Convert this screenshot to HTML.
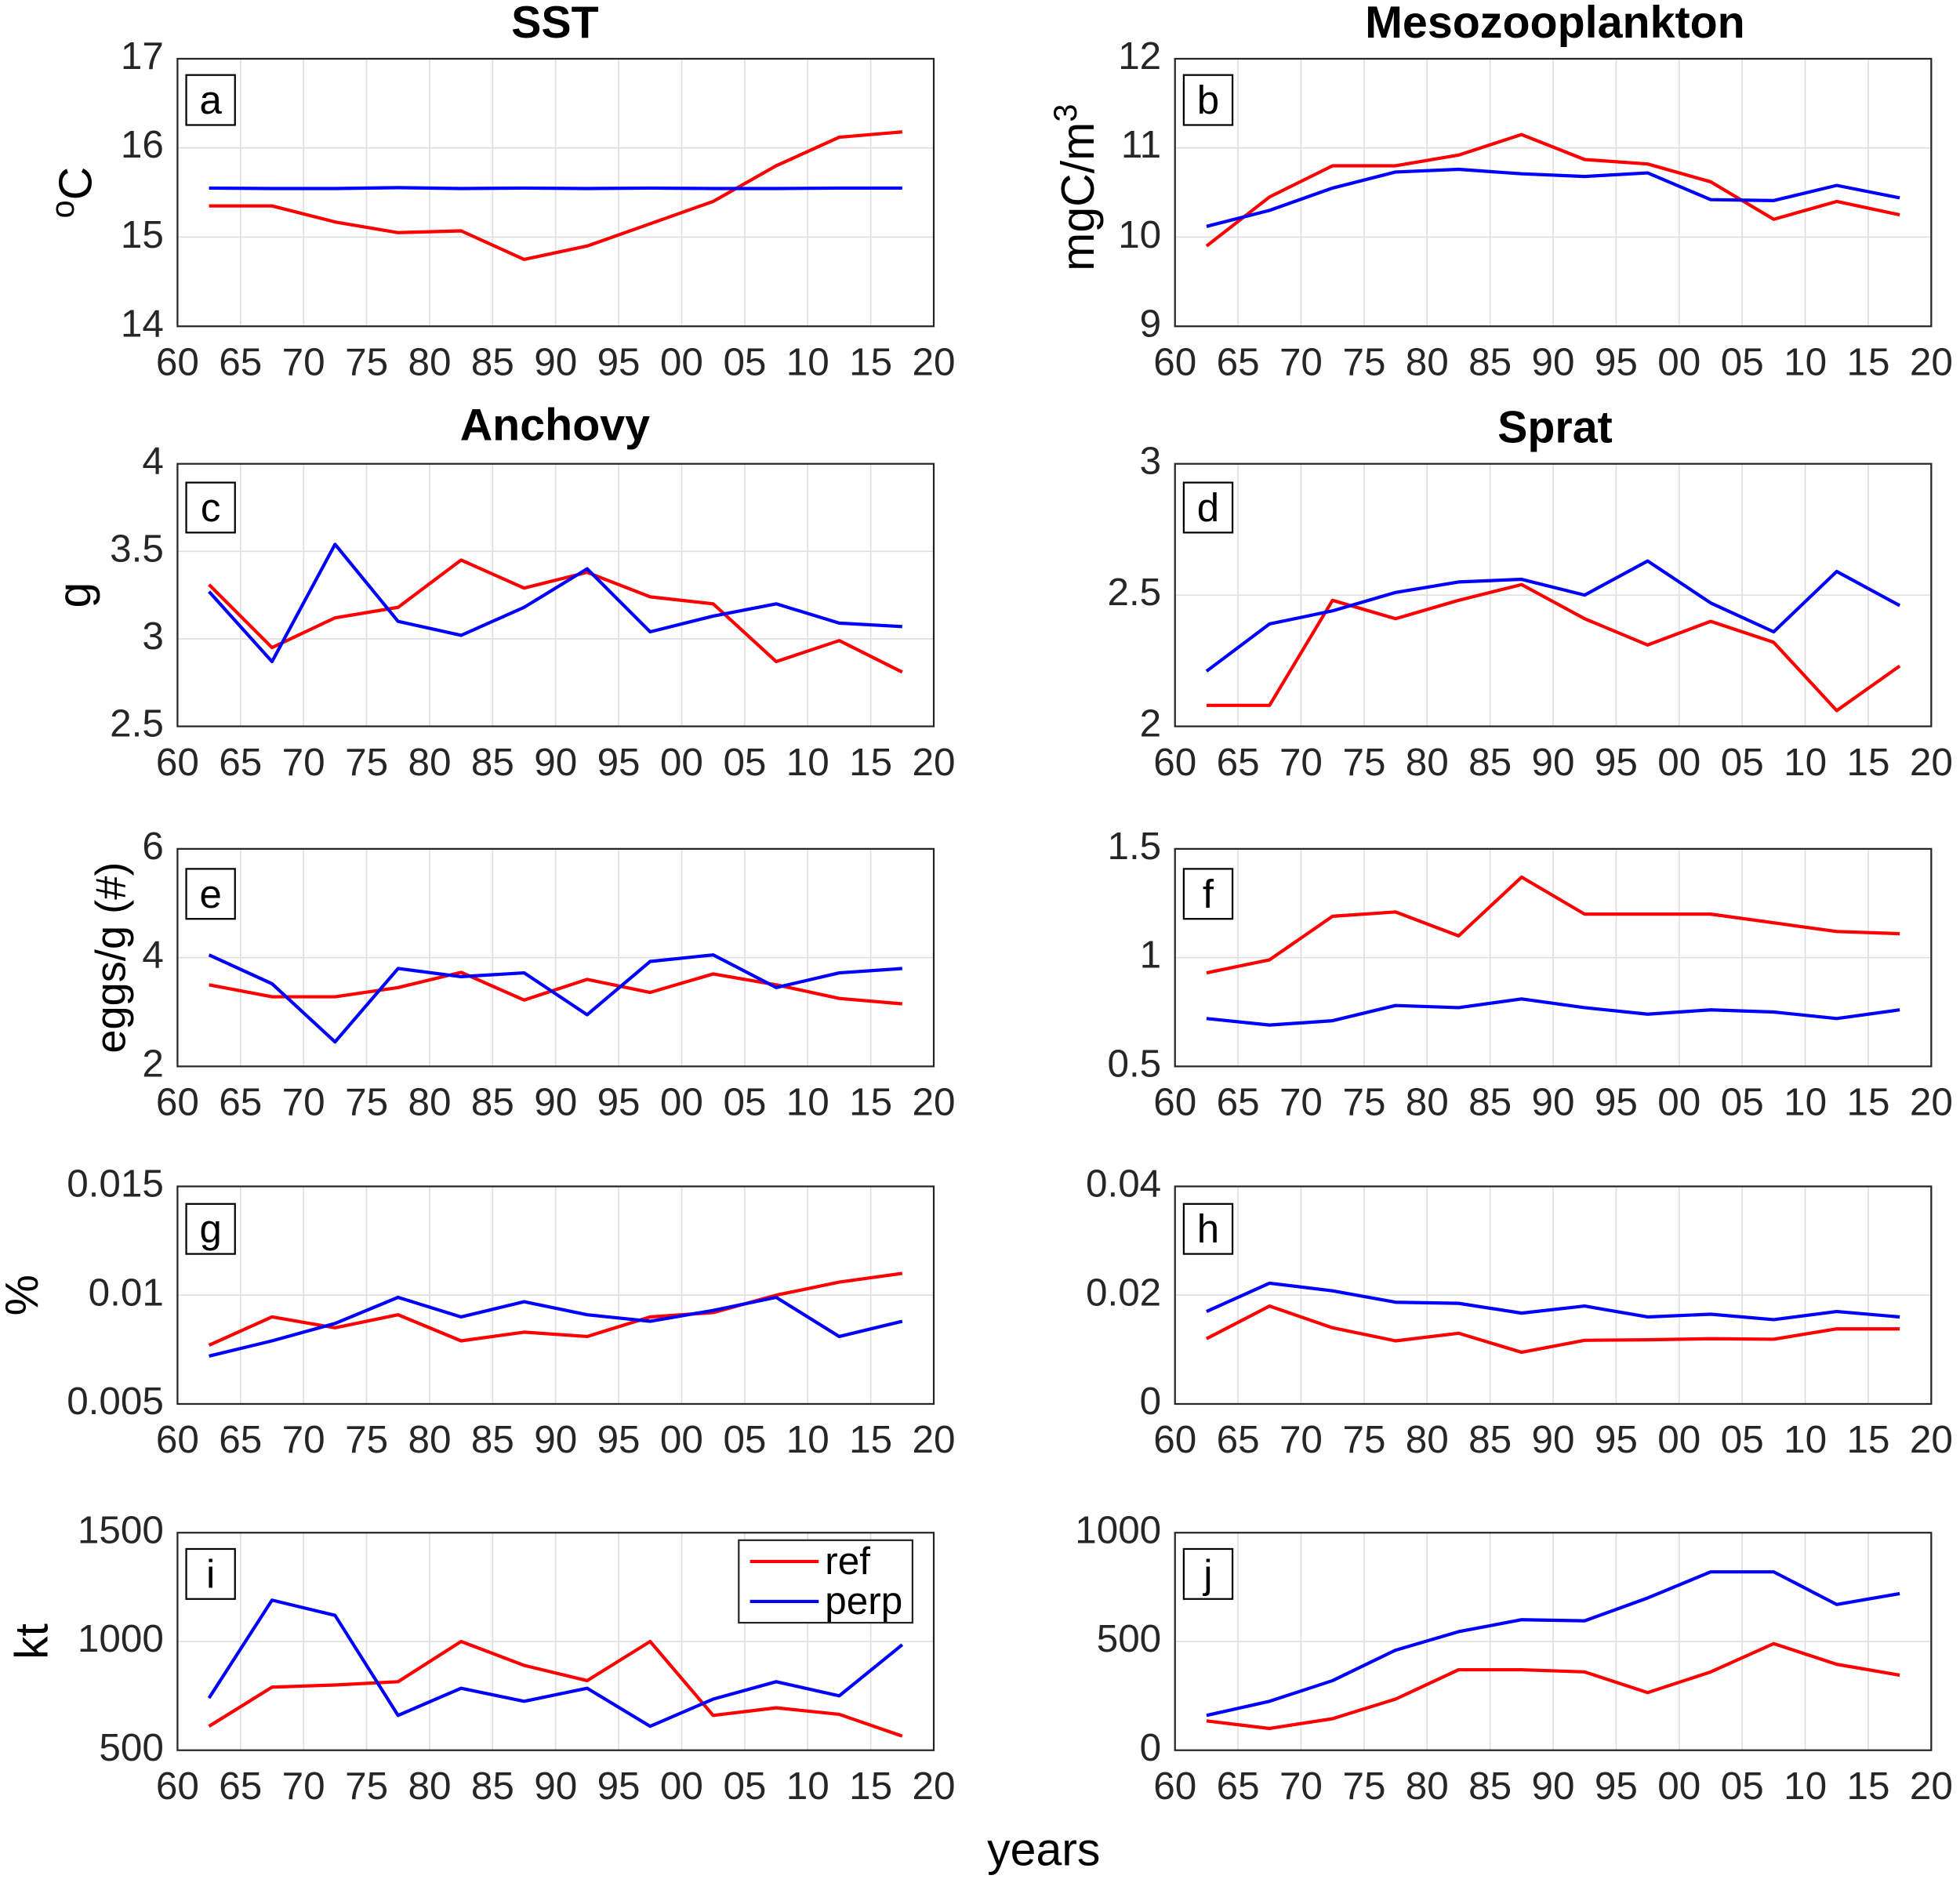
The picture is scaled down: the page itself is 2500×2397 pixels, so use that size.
<!DOCTYPE html>
<html><head><meta charset="utf-8"><style>html,body{margin:0;padding:0;background:#fff}svg{display:block}</style></head>
<body>
<svg width="2500" height="2397" viewBox="0 0 1568 1503" preserveAspectRatio="none" xmlns="http://www.w3.org/2000/svg" font-family="Liberation Sans, Arial, sans-serif">
<style>
.g{stroke:#dedede;stroke-width:1.6;vector-effect:non-scaling-stroke;fill:none}
.r{stroke:#f00;stroke-width:4.2;vector-effect:non-scaling-stroke;fill:none;stroke-linejoin:round}
.b{stroke:#00f;stroke-width:4.2;vector-effect:non-scaling-stroke;fill:none;stroke-linejoin:round}
.ax{stroke:#262626;stroke-width:1.4;fill:none}
.t{font-size:31px;fill:#000}
.yl{font-size:31px;fill:#262626;text-anchor:end;dominant-baseline:middle}
.xl{font-size:31px;fill:#262626;text-anchor:middle}
.ti{font-size:36px;font-weight:bold;fill:#000;text-anchor:middle}
.lb{font-size:32px;fill:#000;text-anchor:middle}
</style>

<text class="ti" x="444" y="30">SST</text>
<text class="ti" x="1244" y="30">Mesozooplankton</text>
<text class="ti" x="444" y="352">Anchovy</text>
<text class="ti" x="1244" y="354">Sprat</text>

<g transform="translate(142,261) scale(10.0833,-71.333) translate(-1960,-14)">
<path class="g" d="M1965,14V17M1970,14V17M1975,14V17M1980,14V17M1985,14V17M1990,14V17M1995,14V17M2000,14V17M2005,14V17M2010,14V17M2015,14V17M1960,15H2020M1960,16H2020"/>
<polyline class="r" points="1962.5,15.35 1967.5,15.35 1972.5,15.17 1977.5,15.05 1982.5,15.07 1987.5,14.75 1992.5,14.9 1997.5,15.15 2002.5,15.4 2007.5,15.8 2012.5,16.12 2017.5,16.18"/>
<polyline class="b" points="1962.5,15.55 1967.5,15.545 1972.5,15.545 1977.5,15.555 1982.5,15.545 1987.5,15.55 1992.5,15.545 1997.5,15.55 2002.5,15.545 2007.5,15.545 2012.5,15.55 2017.5,15.55"/>
</g>
<rect class="ax" x="142" y="47" width="605" height="214"/>
<text class="yl" x="131" y="47">17</text><text class="yl" x="131" y="118">16</text><text class="yl" x="131" y="190">15</text><text class="yl" x="131" y="261">14</text>

<g transform="translate(940,261) scale(10.0833,-71.333) translate(-1960,-9)">
<path class="g" d="M1965,9V12M1970,9V12M1975,9V12M1980,9V12M1985,9V12M1990,9V12M1995,9V12M2000,9V12M2005,9V12M2010,9V12M2015,9V12M1960,10H2020M1960,11H2020"/>
<polyline class="r" points="1962.5,9.9 1967.5,10.45 1972.5,10.8 1977.5,10.8 1982.5,10.92 1987.5,11.15 1992.5,10.87 1997.5,10.82 2002.5,10.62 2007.5,10.2 2012.5,10.4 2017.5,10.25"/>
<polyline class="b" points="1962.5,10.12 1967.5,10.3 1972.5,10.55 1977.5,10.73 1982.5,10.76 1987.5,10.71 1992.5,10.68 1997.5,10.72 2002.5,10.42 2007.5,10.41 2012.5,10.58 2017.5,10.44"/>
</g>
<rect class="ax" x="940" y="47" width="605" height="214"/>
<text class="yl" x="929" y="47">12</text><text class="yl" x="929" y="118">11</text><text class="yl" x="929" y="190">10</text><text class="yl" x="929" y="261">9</text>

<g transform="translate(142,581) scale(10.0833,-140) translate(-1960,-2.5)">
<path class="g" d="M1965,2.5V4M1970,2.5V4M1975,2.5V4M1980,2.5V4M1985,2.5V4M1990,2.5V4M1995,2.5V4M2000,2.5V4M2005,2.5V4M2010,2.5V4M2015,2.5V4M1960,3H2020M1960,3.5H2020"/>
<polyline class="r" points="1962.5,3.31 1967.5,2.95 1972.5,3.12 1977.5,3.18 1982.5,3.45 1987.5,3.29 1992.5,3.38 1997.5,3.24 2002.5,3.2 2007.5,2.87 2012.5,2.99 2017.5,2.81"/>
<polyline class="b" points="1962.5,3.27 1967.5,2.87 1972.5,3.54 1977.5,3.1 1982.5,3.02 1987.5,3.18 1992.5,3.4 1997.5,3.04 2002.5,3.13 2007.5,3.2 2012.5,3.09 2017.5,3.07"/>
</g>
<rect class="ax" x="142" y="371" width="605" height="210"/>
<text class="yl" x="131" y="371">4</text><text class="yl" x="131" y="441">3.5</text><text class="yl" x="131" y="511">3</text><text class="yl" x="131" y="581">2.5</text>

<g transform="translate(940,581) scale(10.0833,-210) translate(-1960,-2)">
<path class="g" d="M1965,2V3M1970,2V3M1975,2V3M1980,2V3M1985,2V3M1990,2V3M1995,2V3M2000,2V3M2005,2V3M2010,2V3M2015,2V3M1960,2.5H2020"/>
<polyline class="r" points="1962.5,2.08 1967.5,2.08 1972.5,2.48 1977.5,2.41 1982.5,2.48 1987.5,2.54 1992.5,2.41 1997.5,2.31 2002.5,2.4 2007.5,2.32 2012.5,2.06 2017.5,2.23"/>
<polyline class="b" points="1962.5,2.21 1967.5,2.39 1972.5,2.44 1977.5,2.51 1982.5,2.55 1987.5,2.56 1992.5,2.5 1997.5,2.63 2002.5,2.47 2007.5,2.36 2012.5,2.59 2017.5,2.46"/>
</g>
<rect class="ax" x="940" y="371" width="605" height="210"/>
<text class="yl" x="929" y="371">3</text><text class="yl" x="929" y="476">2.5</text><text class="yl" x="929" y="581">2</text>

<g transform="translate(142,853) scale(10.0833,-43.5) translate(-1960,-2)">
<path class="g" d="M1965,2V6M1970,2V6M1975,2V6M1980,2V6M1985,2V6M1990,2V6M1995,2V6M2000,2V6M2005,2V6M2010,2V6M2015,2V6M1960,4H2020"/>
<polyline class="r" points="1962.5,3.5 1967.5,3.28 1972.5,3.28 1977.5,3.45 1982.5,3.73 1987.5,3.22 1992.5,3.6 1997.5,3.36 2002.5,3.7 2007.5,3.5 2012.5,3.25 2017.5,3.15"/>
<polyline class="b" points="1962.5,4.05 1967.5,3.52 1972.5,2.45 1977.5,3.8 1982.5,3.65 1987.5,3.72 1992.5,2.95 1997.5,3.93 2002.5,4.05 2007.5,3.45 2012.5,3.72 2017.5,3.8"/>
</g>
<rect class="ax" x="142" y="679" width="605" height="174"/>
<text class="yl" x="131" y="679">6</text><text class="yl" x="131" y="766">4</text><text class="yl" x="131" y="853">2</text>

<g transform="translate(940,853) scale(10.0833,-174) translate(-1960,-0.5)">
<path class="g" d="M1965,.5V1.5M1970,.5V1.5M1975,.5V1.5M1980,.5V1.5M1985,.5V1.5M1990,.5V1.5M1995,.5V1.5M2000,.5V1.5M2005,.5V1.5M2010,.5V1.5M2015,.5V1.5M1960,1H2020"/>
<polyline class="r" points="1962.5,0.93 1967.5,0.99 1972.5,1.19 1977.5,1.21 1982.5,1.1 1987.5,1.37 1992.5,1.2 1997.5,1.2 2002.5,1.2 2007.5,1.16 2012.5,1.12 2017.5,1.11"/>
<polyline class="b" points="1962.5,0.72 1967.5,0.69 1972.5,0.71 1977.5,0.78 1982.5,0.77 1987.5,0.81 1992.5,0.77 1997.5,0.74 2002.5,0.76 2007.5,0.75 2012.5,0.72 2017.5,0.76"/>
</g>
<rect class="ax" x="940" y="679" width="605" height="174"/>
<text class="yl" x="929" y="679">1.5</text><text class="yl" x="929" y="766">1</text><text class="yl" x="929" y="853">0.5</text>

<g transform="translate(142,1123) scale(10.0833,-17.4) translate(-1960,-5)">
<path class="g" d="M1965,5V15M1970,5V15M1975,5V15M1980,5V15M1985,5V15M1990,5V15M1995,5V15M2000,5V15M2005,5V15M2010,5V15M2015,5V15M1960,10H2020"/>
<polyline class="r" points="1962.5,7.7 1967.5,9 1972.5,8.5 1977.5,9.1 1982.5,7.9 1987.5,8.3 1992.5,8.1 1997.5,9 2002.5,9.2 2007.5,10 2012.5,10.6 2017.5,11"/>
<polyline class="b" points="1962.5,7.2 1967.5,7.9 1972.5,8.7 1977.5,9.9 1982.5,9 1987.5,9.7 1992.5,9.1 1997.5,8.8 2002.5,9.3 2007.5,9.9 2012.5,8.1 2017.5,8.8"/>
</g>
<rect class="ax" x="142" y="949" width="605" height="174"/>
<text class="yl" x="131" y="949">0.015</text><text class="yl" x="131" y="1036">0.01</text><text class="yl" x="131" y="1123">0.005</text>

<g transform="translate(940,1123) scale(10.0833,-4.35) translate(-1960,0)">
<path class="g" d="M1965,0V40M1970,0V40M1975,0V40M1980,0V40M1985,0V40M1990,0V40M1995,0V40M2000,0V40M2005,0V40M2010,0V40M2015,0V40M1960,20H2020"/>
<polyline class="r" points="1962.5,12 1967.5,18 1972.5,14 1977.5,11.6 1982.5,13 1987.5,9.5 1992.5,11.7 1997.5,11.8 2002.5,12 2007.5,11.9 2012.5,13.8 2017.5,13.8"/>
<polyline class="b" points="1962.5,17 1967.5,22.2 1972.5,20.8 1977.5,18.7 1982.5,18.5 1987.5,16.7 1992.5,18 1997.5,16 2002.5,16.5 2007.5,15.5 2012.5,17 2017.5,16"/>
</g>
<rect class="ax" x="940" y="949" width="605" height="174"/>
<text class="yl" x="929" y="949">0.04</text><text class="yl" x="929" y="1036">0.02</text><text class="yl" x="929" y="1123">0</text>

<g transform="translate(142,1400) scale(10.0833,-0.174) translate(-1960,-500)">
<path class="g" d="M1965,500V1500M1970,500V1500M1975,500V1500M1980,500V1500M1985,500V1500M1990,500V1500M1995,500V1500M2000,500V1500M2005,500V1500M2010,500V1500M2015,500V1500M1960,1000H2020"/>
<polyline class="r" points="1962.5,610 1967.5,790 1972.5,800 1977.5,815 1982.5,1000 1987.5,890 1992.5,820 1997.5,1000 2002.5,660 2007.5,695 2012.5,665 2017.5,565"/>
<polyline class="b" points="1962.5,740 1967.5,1190 1972.5,1120 1977.5,660 1982.5,785 1987.5,725 1992.5,785 1997.5,610 2002.5,735 2007.5,815 2012.5,750 2017.5,985"/>
</g>
<rect class="ax" x="142" y="1226" width="605" height="174"/>
<text class="yl" x="131" y="1226">1500</text><text class="yl" x="131" y="1313">1000</text><text class="yl" x="131" y="1400">500</text>
<rect x="591" y="1232" width="139" height="66" fill="#fff" stroke="#262626" stroke-width="1.4"/>
<line x1="600" y1="1249" x2="655" y2="1249" stroke="#f00" stroke-width="2.6"/>
<line x1="600" y1="1281" x2="655" y2="1281" stroke="#00f" stroke-width="2.6"/>
<text class="t" x="660" y="1259">ref</text>
<text class="t" x="660" y="1291">perp</text>

<g transform="translate(940,1400) scale(10.0833,-0.174) translate(-1960,0)">
<path class="g" d="M1965,0V1000M1970,0V1000M1975,0V1000M1980,0V1000M1985,0V1000M1990,0V1000M1995,0V1000M2000,0V1000M2005,0V1000M2010,0V1000M2015,0V1000M1960,500H2020"/>
<polyline class="r" points="1962.5,135 1967.5,100 1972.5,145 1977.5,235 1982.5,370 1987.5,370 1992.5,360 1997.5,265 2002.5,360 2007.5,490 2012.5,395 2017.5,345"/>
<polyline class="b" points="1962.5,160 1967.5,225 1972.5,320 1977.5,460 1982.5,545 1987.5,600 1992.5,595 1997.5,700 2002.5,820 2007.5,820 2012.5,670 2017.5,720"/>
</g>
<rect class="ax" x="940" y="1226" width="605" height="174"/>
<text class="yl" x="929" y="1226">1000</text><text class="yl" x="929" y="1313">500</text><text class="yl" x="929" y="1400">0</text>

<g class="xl">
<g transform="translate(0,300)">
<text x="142">60</text><text x="192.4">65</text><text x="242.8">70</text><text x="293.3">75</text><text x="343.7">80</text><text x="394.1">85</text><text x="444.5">90</text><text x="494.9">95</text><text x="545.3">00</text><text x="595.8">05</text><text x="646.2">10</text><text x="696.6">15</text><text x="747">20</text>
<text x="940">60</text><text x="990.4">65</text><text x="1040.8">70</text><text x="1091.3">75</text><text x="1141.7">80</text><text x="1192.1">85</text><text x="1242.5">90</text><text x="1292.9">95</text><text x="1343.3">00</text><text x="1393.8">05</text><text x="1444.2">10</text><text x="1494.6">15</text><text x="1545">20</text>
</g>
<g transform="translate(0,620)">
<text x="142">60</text><text x="192.4">65</text><text x="242.8">70</text><text x="293.3">75</text><text x="343.7">80</text><text x="394.1">85</text><text x="444.5">90</text><text x="494.9">95</text><text x="545.3">00</text><text x="595.8">05</text><text x="646.2">10</text><text x="696.6">15</text><text x="747">20</text>
<text x="940">60</text><text x="990.4">65</text><text x="1040.8">70</text><text x="1091.3">75</text><text x="1141.7">80</text><text x="1192.1">85</text><text x="1242.5">90</text><text x="1292.9">95</text><text x="1343.3">00</text><text x="1393.8">05</text><text x="1444.2">10</text><text x="1494.6">15</text><text x="1545">20</text>
</g>
<g transform="translate(0,892)">
<text x="142">60</text><text x="192.4">65</text><text x="242.8">70</text><text x="293.3">75</text><text x="343.7">80</text><text x="394.1">85</text><text x="444.5">90</text><text x="494.9">95</text><text x="545.3">00</text><text x="595.8">05</text><text x="646.2">10</text><text x="696.6">15</text><text x="747">20</text>
<text x="940">60</text><text x="990.4">65</text><text x="1040.8">70</text><text x="1091.3">75</text><text x="1141.7">80</text><text x="1192.1">85</text><text x="1242.5">90</text><text x="1292.9">95</text><text x="1343.3">00</text><text x="1393.8">05</text><text x="1444.2">10</text><text x="1494.6">15</text><text x="1545">20</text>
</g>
<g transform="translate(0,1162)">
<text x="142">60</text><text x="192.4">65</text><text x="242.8">70</text><text x="293.3">75</text><text x="343.7">80</text><text x="394.1">85</text><text x="444.5">90</text><text x="494.9">95</text><text x="545.3">00</text><text x="595.8">05</text><text x="646.2">10</text><text x="696.6">15</text><text x="747">20</text>
<text x="940">60</text><text x="990.4">65</text><text x="1040.8">70</text><text x="1091.3">75</text><text x="1141.7">80</text><text x="1192.1">85</text><text x="1242.5">90</text><text x="1292.9">95</text><text x="1343.3">00</text><text x="1393.8">05</text><text x="1444.2">10</text><text x="1494.6">15</text><text x="1545">20</text>
</g>
<g transform="translate(0,1439)">
<text x="142">60</text><text x="192.4">65</text><text x="242.8">70</text><text x="293.3">75</text><text x="343.7">80</text><text x="394.1">85</text><text x="444.5">90</text><text x="494.9">95</text><text x="545.3">00</text><text x="595.8">05</text><text x="646.2">10</text><text x="696.6">15</text><text x="747">20</text>
<text x="940">60</text><text x="990.4">65</text><text x="1040.8">70</text><text x="1091.3">75</text><text x="1141.7">80</text><text x="1192.1">85</text><text x="1242.5">90</text><text x="1292.9">95</text><text x="1343.3">00</text><text x="1393.8">05</text><text x="1444.2">10</text><text x="1494.6">15</text><text x="1545">20</text>
</g>
</g>

<g fill="#fff" stroke="#000" stroke-width="1.4">
<rect x="149" y="60" width="39" height="40"/><rect x="947" y="60" width="39" height="40"/>
<rect x="149" y="386" width="39" height="40"/><rect x="947" y="386" width="39" height="40"/>
<rect x="149" y="695" width="39" height="40"/><rect x="947" y="695" width="39" height="40"/>
<rect x="149" y="963" width="39" height="40"/><rect x="947" y="963" width="39" height="40"/>
<rect x="149" y="1239" width="39" height="40"/><rect x="947" y="1239" width="39" height="40"/>
</g>
<g class="lb">
<text x="168.5" y="91">a</text><text x="966.5" y="91">b</text>
<text x="168.5" y="417">c</text><text x="966.5" y="417">d</text>
<text x="168.5" y="726">e</text><text x="966.5" y="726">f</text>
<text x="168.5" y="994">g</text><text x="966.5" y="994">h</text>
<text x="168.5" y="1270">i</text><text x="966.5" y="1270">j</text>
</g>

<g font-size="37" fill="#000" text-anchor="middle">
<text transform="translate(73,154) rotate(-90)"><tspan font-size="26" dy="-14">o</tspan><tspan dy="14">C</tspan></text>
<text transform="translate(875,150) rotate(-90)">mgC/m<tspan font-size="26" dy="-14">3</tspan></text>
<text transform="translate(72,476) rotate(-90)">g</text>
<text transform="translate(100,766) rotate(-90)" font-size="34">eggs/g (#)</text>
<text transform="translate(30,1036) rotate(-90)">%</text>
<text transform="translate(38,1313) rotate(-90)">kt</text>
<text x="835" y="1492">years</text>
</g>
</svg>
</body></html>
